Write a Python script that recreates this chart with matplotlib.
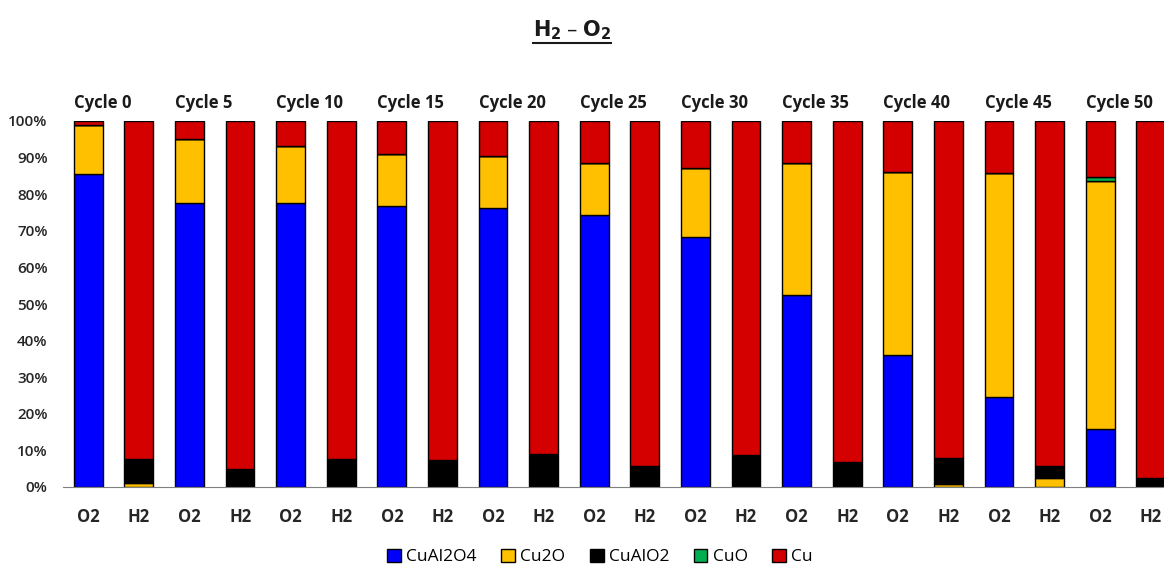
import matplotlib.pyplot as plt
import numpy as np

cycles = ['Cycle 0', 'Cycle 5', 'Cycle 10', 'Cycle 15', 'Cycle 20', 'Cycle 25',
          'Cycle 30', 'Cycle 35', 'Cycle 40', 'Cycle 45', 'Cycle 50']
labels = ['O2', 'H2'] * 11

# percentages, bar by bar (O2, H2, O2, H2 ...)
cual2o4 = [85.4, 0, 77.6, 0, 77.6, 0, 76.7, 0, 76.1, 0, 74.4, 0,
           68.3, 0, 52.5, 0, 36.1, 0, 24.5, 0, 15.8, 0]
cu2o = [13.5, 1.0, 17.5, 0, 15.5, 0, 14.4, 0, 14.3, 0, 14.1, 0,
        18.9, 0, 36.1, 0, 50.0, 0.7, 61.2, 2.4, 67.7, 0]
cualo2 = [0, 6.6, 0, 4.9, 0, 7.7, 0, 7.5, 0, 9.0, 0, 5.7,
          0, 8.8, 0, 6.8, 0, 7.3, 0, 3.3, 0, 2.5]
cuo = [0, 0, 0, 0, 0, 0, 0, 0, 0, 0, 0, 0,
       0, 0, 0, 0, 0, 0, 0, 0, 1.1, 0]

series = {'CuAl2O4': cual2o4, 'Cu2O': cu2o, 'CuAlO2': cualo2, 'CuO': cuo}
colors = {'CuAl2O4': '#0000FF', 'Cu2O': '#FFC000', 'CuAlO2': '#000000',
          'CuO': '#00B050', 'Cu': '#D40000'}

plt.rcParams['font.family'] = ['Open Sans', 'DejaVu Sans']

fig = plt.figure(figsize=(11.64, 5.68), dpi=100)
# the plot runs past the right edge, as in the original crop
ax = fig.add_axes([63/1164, 81/568, 1113/1164, 366/568])

x = np.arange(len(labels))
w = 0.57
bottom = np.zeros(len(labels))
for name, vals in series.items():
    vals = np.array(vals)
    ax.bar(x, vals, w, bottom=bottom, color=colors[name], edgecolor='black',
           linewidth=1, label=name)
    bottom += vals
ax.bar(x, 100 - bottom, w, bottom=bottom, color=colors['Cu'], edgecolor='black',
       linewidth=1, label='Cu')

ax.set_xlim(-0.5, len(labels) - 0.5)
ax.set_ylim(0, 100)
ax.set_yticks(np.arange(0, 101, 10))
ax.set_yticklabels([f'{v}%' for v in range(0, 101, 10)], fontsize=11,
                   fontweight='semibold', color='#262626')
ax.set_xticks(x)
ax.set_xticklabels(labels, fontsize=12, fontweight='bold', color='#262626')
ax.tick_params(length=0)
ax.tick_params(axis='x', pad=15)
ax.tick_params(axis='y', pad=11)
for s in ['top', 'right', 'left']:
    ax.spines[s].set_visible(False)
ax.spines['bottom'].set_color('#808080')

for i, c in enumerate(cycles):
    ax.text(2*i - w/2, 102.5, c, fontsize=12, fontweight='bold', ha='left',
            va='bottom', color='#1a1a1a', clip_on=False)

ax.legend(loc='center', bbox_to_anchor=(600/1164, 11/568), bbox_transform=fig.transFigure,
          ncol=5, frameon=False, fontsize=12.5, handlelength=0.8, handleheight=0.8,
          handletextpad=0.3, columnspacing=1.4)

t = fig.text(572/1164, 1 - 30/568, r'$\mathbf{H_2}$ – $\mathbf{O_2}$', ha='center',
             va='center', fontsize=15, fontweight='bold', color='#1a1a1a')
# underline the title
fig.canvas.draw()
bb = t.get_window_extent(fig.canvas.get_renderer())
fig.add_artist(plt.Line2D([bb.x0/1164, bb.x1/1164], [(bb.y0 - 1)/568, (bb.y0 - 1)/568],
                          color='#1a1a1a', linewidth=1.5))

plt.savefig('out.png', dpi=100)
